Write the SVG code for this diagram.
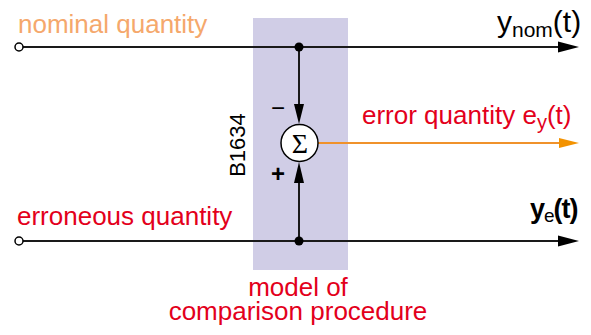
<svg xmlns="http://www.w3.org/2000/svg" width="591" height="335" viewBox="0 0 591 335">
<style>
.t{font-family:"Liberation Sans",Arial,sans-serif}
.red{fill:#E3001B}
.ln{stroke:#1a1a1a;stroke-width:2;fill:none}
.ah{fill:#000}
</style>
<rect x="253" y="18" width="95" height="252" fill="#D0CDE6"/>
<g id="connectors">
  <line class="ln" x1="23" y1="47" x2="562" y2="47"/>
  <polygon class="ah" points="558,41.5 579,47 558,52.5"/>
  <line class="ln" x1="23" y1="241" x2="562" y2="241" stroke="#3a3a3a"/>
  <polygon class="ah" points="558,235.5 579,241 558,246.5"/>
  <line class="ln" x1="299" y1="47" x2="299" y2="108"/>
  <polygon class="ah" points="294,104 304,104 299,124"/>
  <line class="ln" x1="299" y1="241" x2="299" y2="180"/>
  <polygon class="ah" points="294,183 304,183 299,162"/>
  <line x1="318" y1="143" x2="562" y2="143" stroke="#F0922B" stroke-width="2"/>
  <polygon points="559,138 579,143 559,148" fill="#F39200"/>
</g>
<g id="input-nominal">
  <circle cx="19" cy="47" r="4" fill="#fff" stroke="#000" stroke-width="1.5"/>
  <text class="t" x="18" y="33" font-size="26" fill="#F5A86C">nominal quantity</text>
</g>
<g id="input-erroneous">
  <circle cx="19" cy="241" r="4" fill="#fff" stroke="#000" stroke-width="1.5"/>
  <text class="t red" x="17" y="225" font-size="26">erroneous quantity</text>
</g>
<g id="junctions">
  <circle cx="299" cy="47" r="4.5" fill="#000"/>
  <circle cx="299" cy="241" r="4.5" fill="#000"/>
</g>
<g id="sum">
  <circle cx="299.5" cy="143" r="18.5" fill="#fff" stroke="#000" stroke-width="1.5"/>
  <text x="300" y="153" font-family="'Liberation Serif','Times New Roman',serif" font-size="28" text-anchor="middle">Σ</text>
  <text class="t" x="278" y="116" font-size="24" text-anchor="middle">−</text>
  <text class="t" x="278" y="182" font-size="24" text-anchor="middle" font-weight="bold">+</text>
</g>
<g id="label-b">
  <text class="t" transform="translate(245,145) rotate(-90)" font-size="22" text-anchor="middle">B1634</text>
</g>
<g id="output-nominal">
  <text class="t" x="497" y="32" font-size="30">y<tspan font-size="21" dy="5">nom</tspan><tspan dy="-5">(t)</tspan></text>
</g>
<g id="output-error">
  <text class="t red" x="362" y="124" font-size="26">error quantity e<tspan font-size="20" dy="5">y</tspan><tspan dy="-5">(t)</tspan></text>
</g>
<g id="output-erroneous">
  <text class="t" x="530" y="218" font-size="27" font-weight="bold" letter-spacing="-1">y<tspan font-size="19" font-weight="normal" dy="4">e</tspan><tspan dy="-4">(t)</tspan></text>
</g>
<g id="model-label">
  <text class="t red" x="298" y="296" font-size="26" text-anchor="middle">model of</text>
  <text class="t red" x="298" y="320" font-size="26" text-anchor="middle">comparison procedure</text>
</g>
</svg>
